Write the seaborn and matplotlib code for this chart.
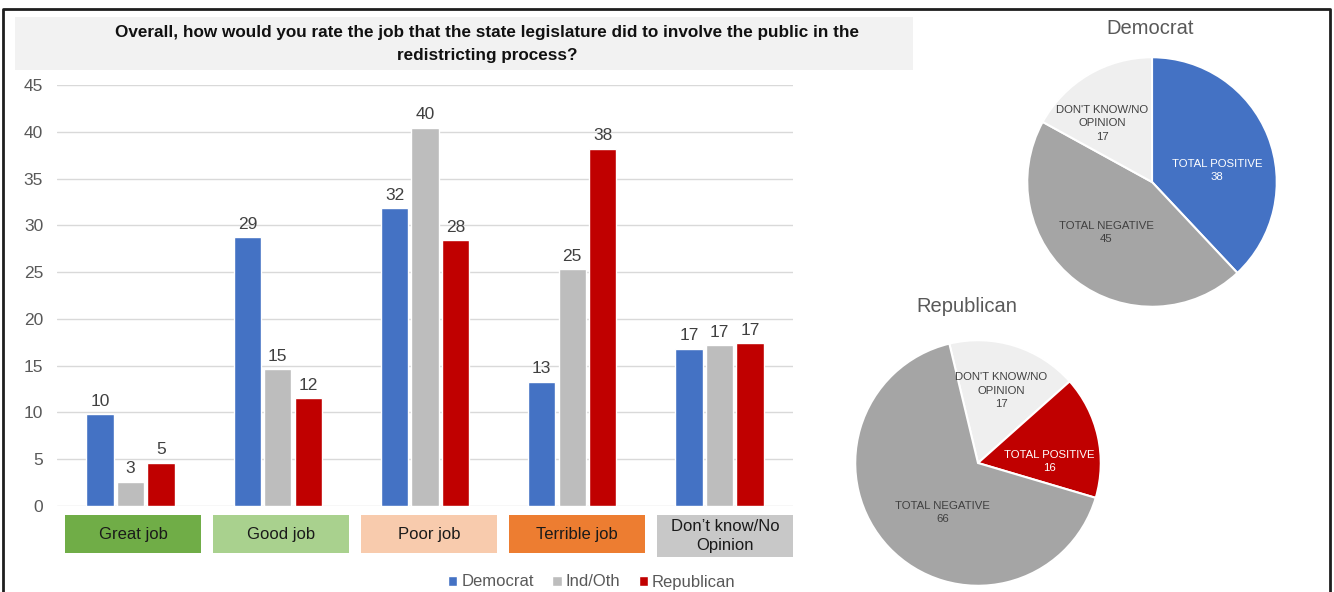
import matplotlib
matplotlib.use("Agg")
import matplotlib.pyplot as plt
import seaborn as sns
import pandas as pd
from matplotlib.patches import Rectangle, Patch
from matplotlib.lines import Line2D

# --- data -----------------------------------------------------------------
categories = ["Great job", "Good job", "Poor job", "Terrible job", "Don’t know/No\nOpinion"]
parties = ["Democrat", "Ind/Oth", "Republican"]
democrat = [9.8, 28.7, 31.8, 13.3, 16.8]
ind_oth = [2.6, 14.6, 40.4, 25.3, 17.2]
republican = [4.6, 11.5, 28.4, 38.2, 17.4]
y_ticks = [0, 5, 10, 15, 20, 25, 30, 35, 40, 45]

dem_pie_labels = ["TOTAL POSITIVE", "TOTAL NEGATIVE", "DON'T KNOW/NO\nOPINION"]
dem_pie_values = [38, 45, 17]
rep_pie_labels = ["DON'T KNOW/NO\nOPINION", "TOTAL POSITIVE", "TOTAL NEGATIVE"]
rep_pie_values = [17, 16, 66]

title = ("Overall, how would you rate the job that the state legislature did to involve the public in the\n"
         "redistricting process?")

# --- styling --------------------------------------------------------------
party_colors = {"Democrat": "#4472C4", "Ind/Oth": "#BDBDBD", "Republican": "#C00000"}
category_colors = ["#70AD47", "#A9D18E", "#F8CBAD", "#ED7D31", "#C8C8C8"]
dem_pie_colors = ["#4472C4", "#A5A5A5", "#EFEFEF"]
rep_pie_colors = ["#EFEFEF", "#C00000", "#A5A5A5"]

sns.set_style("white")
plt.rcParams["font.family"] = ["Liberation Sans", "DejaVu Sans"]

W, H = 1334, 592
fig = plt.figure(figsize=(W / 100, H / 100), dpi=100)


def box(x0, y_top, x1, y_bot):
    """Figure-fraction rectangle from pixel edges (origin top-left)."""
    return [x0 / W, 1 - y_bot / H, (x1 - x0) / W, (y_bot - y_top) / H]


# outer frame
fig.add_artist(Line2D([3 / W, 3 / W, 1330 / W, 1330 / W], [0, 1 - 9 / H, 1 - 9 / H, 0],
                      transform=fig.transFigure, color="#1e1e1e", lw=2))

# title band
fig.add_artist(Rectangle((15 / W, 1 - 70 / H), 898 / W, 53 / H, transform=fig.transFigure,
                         facecolor="#F2F2F2", edgecolor="none"))
fig.text(487 / W, 1 - 44 / H, title, ha="center", va="center", fontsize=12.3,
         fontweight="bold", color="#111111", linespacing=1.6)

# --- grouped bars ---------------------------------------------------------
df = pd.DataFrame({
    "rating": categories * 3,
    "party": [p for p in parties for _ in categories],
    "share": democrat + ind_oth + republican,
})

ax = fig.add_axes(box(57, 85, 793, 506))
sns.barplot(data=df, x="rating", y="share", hue="party", order=categories,
            hue_order=parties, palette=party_colors, width=0.62, gap=0.1,
            saturation=1, errorbar=None, legend=False, ax=ax)
for container in ax.containers:
    ax.bar_label(container, fmt="{:.0f}", padding=4, fontsize=12.5, color="#404040")

ax.set_xlim(-0.5, 4.5)
ax.set_ylim(0, 45)
ax.set_yticks(y_ticks)
ax.set_xticks([])
ax.set_xlabel("")
ax.set_ylabel("")
ax.yaxis.grid(True, color="#D9D9D9", lw=1)
ax.set_axisbelow(True)
ax.tick_params(axis="y", length=0, pad=10, labelsize=12.5, labelcolor="#595959")
for s in ax.spines.values():
    s.set_visible(False)

# coloured category boxes under the groups
axc = fig.add_axes(box(59, 515, 799, 557))
axc.set_xlim(-0.5, 4.5)
axc.set_ylim(0, 1)
axc.axis("off")
for i, (cat, col) in enumerate(zip(categories, category_colors)):
    bottom = 0.0 if "\n" in cat else 4 / 42
    axc.add_patch(Rectangle((i - 0.46, bottom), 0.92, 1 - bottom, facecolor=col, edgecolor="none"))
    axc.text(i, (1 + bottom) / 2, cat, ha="center", va="center", fontsize=12,
             color="#1a1a1a", linespacing=1.4)

# legend
handles = [Patch(facecolor=party_colors[p], label=p) for p in parties]
fig.legend(handles=handles, loc="center", bbox_to_anchor=(592 / W, 1 - 582 / H), ncol=3,
           frameon=False, fontsize=12, handlelength=0.55, handleheight=0.55,
           handletextpad=0.25, columnspacing=1.1, labelcolor="#595959")


# --- pies -----------------------------------------------------------------
def draw_pie(rect, values, labels, colors, startangle, label_pos, light_text):
    axp = fig.add_axes(rect)
    wedges, _ = axp.pie(values, colors=colors, startangle=startangle, counterclock=False,
                        wedgeprops=dict(edgecolor="white", linewidth=1.5))
    for lab, val, (lx, ly), light in zip(labels, values, label_pos, light_text):
        axp.text(lx, ly, f"{lab}\n{val}", ha="center", va="center", fontsize=8.2,
                 color="white" if light else "#404040", linespacing=1.4)
    axp.set_xlim(-1.01, 1.01)
    axp.set_ylim(-1.01, 1.01)
    axp.set_aspect("equal")
    axp.axis("off")


draw_pie(box(1026, 56, 1278, 308), dem_pie_values, dem_pie_labels, dem_pie_colors, 90,
         [(0.52, 0.095), (-0.365, -0.405), (-0.40, 0.47)], [True, False, False])
fig.text(1150 / W, 1 - 28 / H, "Democrat", ha="center", va="center", fontsize=14.5, color="#595959")

draw_pie(box(854, 339, 1102, 587), rep_pie_values, rep_pie_labels, rep_pie_colors, 103.5,
         [(0.19, 0.59), (0.58, 0.01), (-0.29, -0.40)], [False, True, False])
fig.text(967 / W, 1 - 307 / H, "Republican", ha="center", va="center", fontsize=14.5, color="#595959")

fig.savefig("out.png", dpi=100)
